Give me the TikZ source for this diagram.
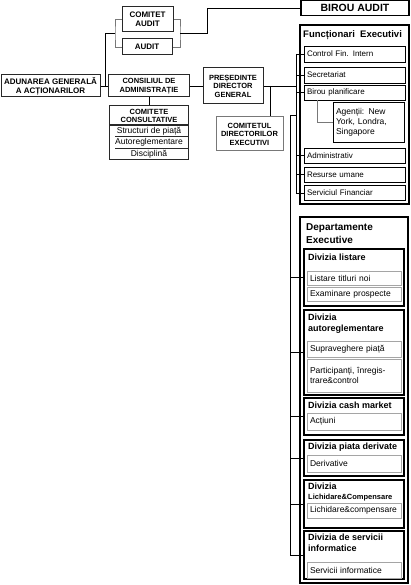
\documentclass[tikz,border=0pt]{standalone}
\usepackage{fontspec}
\setmainfont{Liberation Sans}
\usepackage{tikz}
\usetikzlibrary{positioning, calc}
\definecolor{mydark}{RGB}{40,40,40}
\definecolor{mygray}{RGB}{120,120,120}
\definecolor{mylight}{RGB}{165,165,165}
\tikzset{
  capbox/.style={rectangle, draw=mydark, line width=1pt, align=center,
    inner sep=1pt, font=\fontsize{7.5}{8.5}\selectfont\bfseries},
  graycapbox/.style={capbox, draw=mygray},
  heavybox/.style={rectangle, draw=black, line width=1.8pt},
  itembox/.style={rectangle, draw=black, line width=0.9pt, align=left,
    inner xsep=3pt, inner ysep=0pt, text width=95pt,
    font=\fontsize{8}{9.5}\selectfont},
  divbox/.style={rectangle, draw=black, line width=1.3pt, minimum width=100pt},
  divtitle/.style={anchor=north west, align=left, inner sep=0pt,
    font=\fontsize{9}{11}\selectfont\bfseries},
  subbox/.style={rectangle, draw=mylight, line width=0.9pt, align=left,
    inner xsep=3pt, inner ysep=0pt, text width=88pt,
    font=\fontsize{8.5}{9.5}\selectfont},
  listtext/.style={inner sep=0pt, font=\fontsize{8.5}{9.5}\selectfont},
  line/.style={draw, line width=0.9pt, color=black},
  grayline/.style={draw, line width=0.9pt, color=mygray}
}
\begin{document}
\begin{tikzpicture}[x=1pt, y=-1pt]
  \useasboundingbox (0,0) rectangle (411,585);

  % Left side: assembly, board, audit
  \node[capbox, minimum width=51pt, minimum height=25pt, font=\fontsize{8}{8.8}\selectfont\bfseries] (comaudit) at (147.5,19.5) {COMITET\\AUDIT};
  \node[capbox, minimum width=50pt, minimum height=16pt, font=\fontsize{8}{8.8}\selectfont\bfseries] (audit) at (147,47) {AUDIT};
  \node[heavybox, minimum width=108pt, minimum height=15pt, font=\fontsize{10.5}{11}\selectfont\bfseries] (birou) at (355,8) {BIROU AUDIT};

  \node[capbox, minimum width=99pt, minimum height=22pt, font=\fontsize{8}{8.8}\selectfont\bfseries] (adunarea) at (50.5,86) {ADUNAREA GENERALĂ\\A ACȚIONARILOR};
  \node[capbox, minimum width=81pt, minimum height=22pt] (consiliul) at (149,86) {CONSILIUL DE\\ADMINISTRAȚIE};
  \node[capbox, minimum width=60pt, minimum height=36pt] (presedinte) at (233,86) {PREȘEDINTE\\DIRECTOR\\GENERAL};
  \node[graycapbox, minimum width=67pt, minimum height=34pt] (comdir) at (249.5,134) {COMITETUL\\DIRECTORILOR\\EXECUTIVI};

  % Consultative committees
  \node[rectangle, draw=mydark, line width=0.9pt, minimum width=79pt, minimum height=54pt] (comcons) at (149,132) {};
  \node[inner sep=0pt, align=center, font=\fontsize{7.5}{8}\selectfont\bfseries] (comconst) at (149,116) {COMITETE\\CONSULTATIVE};
  \node[listtext] (ccpiata) at (149,131) {Structuri de piață};
  \node[listtext] (ccautoreg) at (149,142.5) {Autoreglementare};
  \node[listtext] (ccdisc) at (149,154) {Disciplină};
  \draw[line, mydark, line width=1.2pt] (comcons.west |- 0,125) -- (comcons.east |- 0,125);
  \draw[line, mydark] ($(comcons.west |- 0,136.5)+(6,0)$) -- ($(comcons.east |- 0,136.5)+(-1,0)$);
  \draw[line, mydark] ($(comcons.west |- 0,148)+(6,0)$) -- ($(comcons.east |- 0,148)+(-1,0)$);

  % Executive officers
  \node[heavybox, minimum width=109pt, minimum height=179pt] (functionari) at (354.5,114.5) {};
  \node[anchor=north west, inner sep=0pt, font=\fontsize{9.5}{10}\selectfont\bfseries] (functit) at (303,30) {Funcționari\ \ Executivi};
  \node[itembox, minimum height=16pt] (control) at (354.5,54) {Control Fin. Intern};
  \node[itembox, minimum height=16pt] (secretariat) at (354.5,75) {Secretariat};
  \node[itembox, minimum height=15pt] (planif) at (354.5,92.5) {Birou planificare};
  \node[itembox, text width=65pt, minimum height=40pt, font=\fontsize{8.5}{10}\selectfont] (agentii) at (368.5,122) {Agenții: New\\York, Londra,\\Singapore};
  \node[itembox, minimum height=15pt] (administrativ) at (354.5,155.5) {Administrativ};
  \node[itembox, minimum height=15pt] (resurse) at (354.5,174.5) {Resurse umane};
  \node[itembox, minimum height=15pt] (serviciul) at (354.5,193) {Serviciul Financiar};

  % Executive departments
  \node[heavybox, minimum width=108pt, minimum height=366pt] (departamente) at (354,400) {};
  \node[anchor=north west, inner sep=0pt, align=left, font=\fontsize{10}{13}\selectfont\bfseries] (deptit) at (306,223) {Departamente\\Executive};

  \node[divbox, minimum height=57pt] (div1) at (354,277.5) {};
  \node[divtitle] (div1t) at (308,254) {Divizia listare};
  \node[subbox, minimum height=14pt] (s1a) at (354,278) {Listare titluri noi};
  \node[subbox, minimum height=14pt] (s1b) at (354,294) {Examinare prospecte};

  \node[divbox, minimum height=85pt] (div2) at (354,352.5) {};
  \node[divtitle] (div2t) at (308,314) {Divizia\\autoreglementare};
  \node[subbox, minimum height=16pt] (s2a) at (354,349) {Supraveghere piață};
  \node[subbox, minimum height=33pt] (s2b) at (354,375.5) {Participanți, înregis-\\trare\&control};

  \node[divbox, minimum height=37pt] (div3) at (354,416.5) {};
  \node[divtitle] (div3t) at (308,402) {Divizia cash market};
  \node[subbox, minimum height=17pt] (s3) at (354,421.5) {Acțiuni};

  \node[divbox, minimum height=36pt] (div4) at (354,458) {};
  \node[divtitle] (div4t) at (308,443) {Divizia piata derivate};
  \node[subbox, minimum height=17pt] (s4) at (354,463.5) {Derivative};

  \node[divbox, minimum height=48pt] (div5) at (354,504) {};
  \node[divtitle, font=\fontsize{9}{10}\selectfont\bfseries] (div5t) at (308,483) {Divizia\\{\fontsize{7.5}{9}\selectfont Lichidare\&Compensare}};
  \node[subbox, minimum height=15pt] (s5) at (354,510.5) {Lichidare\&compensare};

  \node[divbox, minimum height=48pt] (div6) at (354,555) {};
  \node[divtitle] (div6t) at (308,534) {Divizia de servicii\\informatice};
  \node[subbox, minimum height=16pt] (s6) at (354,570) {Servicii informatice};

  % Connectors
  \coordinate (lbr) at (115,33);
  \coordinate (rbr) at (180,33);
  \coordinate (ajoin) at (105,86);
  \coordinate (bjoin) at (207,33);
  \draw[grayline] (comaudit.west) -| (lbr) |- (audit.west);
  \draw[grayline] (comaudit.east) -| (rbr) |- (audit.east);
  \draw[line] (lbr) -| (ajoin);
  \draw[line] (rbr) -- (bjoin) |- (birou.west);

  \draw[line] (adunarea.east) -- (consiliul.west);
  \draw[line] (consiliul.east) -- (presedinte.west);
  \draw[line] (consiliul.south) -- (comcons.north);

  \coordinate (fbus) at (296,0);
  \coordinate (ptap) at (270,86);
  \draw[line] (presedinte.east) -- (fbus |- presedinte.east);
  \draw[line] (ptap) -- (ptap |- comdir.north);
  \draw[line] (fbus |- control.west) |- (serviciul.west);
  \foreach \b in {control, secretariat, planif, administrativ, resurse}
    \draw[line] (fbus |- \b.west) -- (\b.west);
  \coordinate (agtap) at (317,100);
  \draw[grayline] (agtap) |- (agentii.west);

  \coordinate (dbus) at (290,115);
  \draw[line] (fbus |- dbus) -- (dbus) |- (div6.west);
  \foreach \d in {1,...,5}
    \draw[line] (dbus |- div\d.west) -- (div\d.west);
\end{tikzpicture}
\end{document}
